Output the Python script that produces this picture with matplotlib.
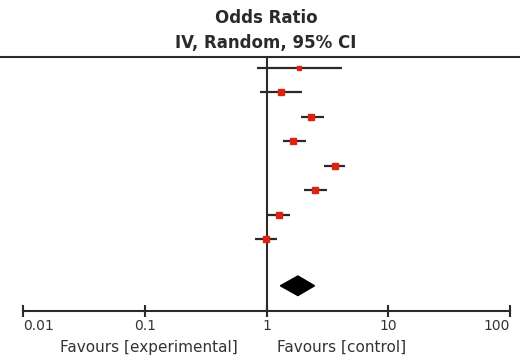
import matplotlib
matplotlib.use("Agg")
import matplotlib.pyplot as plt
import numpy as np

# study odds ratios with 95% CI
odds = [1.86, 1.32, 2.34, 1.66, 3.64, 2.51, 1.27, 0.99]
ci_low = [0.84, 0.89, 1.93, 1.37, 2.96, 2.03, 1.01, 0.81]
ci_high = [4.13, 1.96, 2.96, 2.10, 4.41, 3.15, 1.57, 1.21]
box_size = [3.2, 4.6, 4.6, 4.6, 4.6, 4.6, 4.6, 4.6]

# pooled estimate
pooled = 1.81
pooled_low = 1.30
pooled_high = 2.48

ticks = [0.01, 0.1, 1, 10, 100]
tick_labels = ["0.01", "0.1", "1", "10", "100"]

fig = plt.figure(figsize=(5.2, 3.58), dpi=100)
ax = fig.add_axes([0, 47 / 358, 1, 254 / 358])
ax.set_xscale("log")
ax.set_xlim(10 ** -2.189, 10 ** 2.082)
n = len(odds)
ax.set_ylim(n + 1.93, -0.44)

line_col = "#2a2a2a"
red = "#dd2211"

rows = np.arange(n)
ax.hlines(rows, ci_low, ci_high, color=line_col, lw=1.6, zorder=2)
for i in range(n):
    ax.plot(odds[i], rows[i], marker="s", ms=box_size[i], color=red,
            mec=red, zorder=3)

# pooled diamond
yd = n + 0.9
ax.fill([pooled_low, pooled, pooled_high, pooled],
        [yd, yd - 0.4, yd, yd + 0.4], color="black", zorder=3)

# line of no effect
ax.axvline(1, color=line_col, lw=1.5, zorder=1)

# axis line from 0.01 to 100
ax.plot([ticks[0], ticks[-1]], [n + 1.93, n + 1.93], color=line_col, lw=1.5,
        clip_on=False)
for s in ["left", "right", "bottom"]:
    ax.spines[s].set_visible(False)
ax.spines["top"].set_color(line_col)
ax.spines["top"].set_linewidth(1.5)
ax.set_yticks([])
ax.set_xticks(ticks)
ax.set_xticks([], minor=True)
ax.set_xticklabels(tick_labels, fontsize=10, color="#333333")
ax.tick_params(axis="x", direction="inout", length=9, width=1.5,
               color=line_col, pad=1)
aligns = ["left", "center", "center", "center", "right"]
for lab, ha in zip(ax.get_xticklabels(), aligns):
    lab.set_ha(ha)

# titles
fig.text(266 / 520, 1 - 18 / 358, "Odds Ratio", ha="center", va="center",
         fontsize=12, fontweight="bold", color="#2a2a2a")
fig.text(266 / 520, 1 - 43 / 358, "IV, Random, 95% CI", ha="center",
         va="center", fontsize=12, fontweight="bold", color="#2a2a2a")

# favours labels
fig.text(238 / 520, 0.03, "Favours [experimental]", ha="right", va="center",
         fontsize=11, color="#333333")
fig.text(277 / 520, 0.03, "Favours [control]", ha="left", va="center",
         fontsize=11, color="#333333")

fig.savefig("out.png", dpi=100)
